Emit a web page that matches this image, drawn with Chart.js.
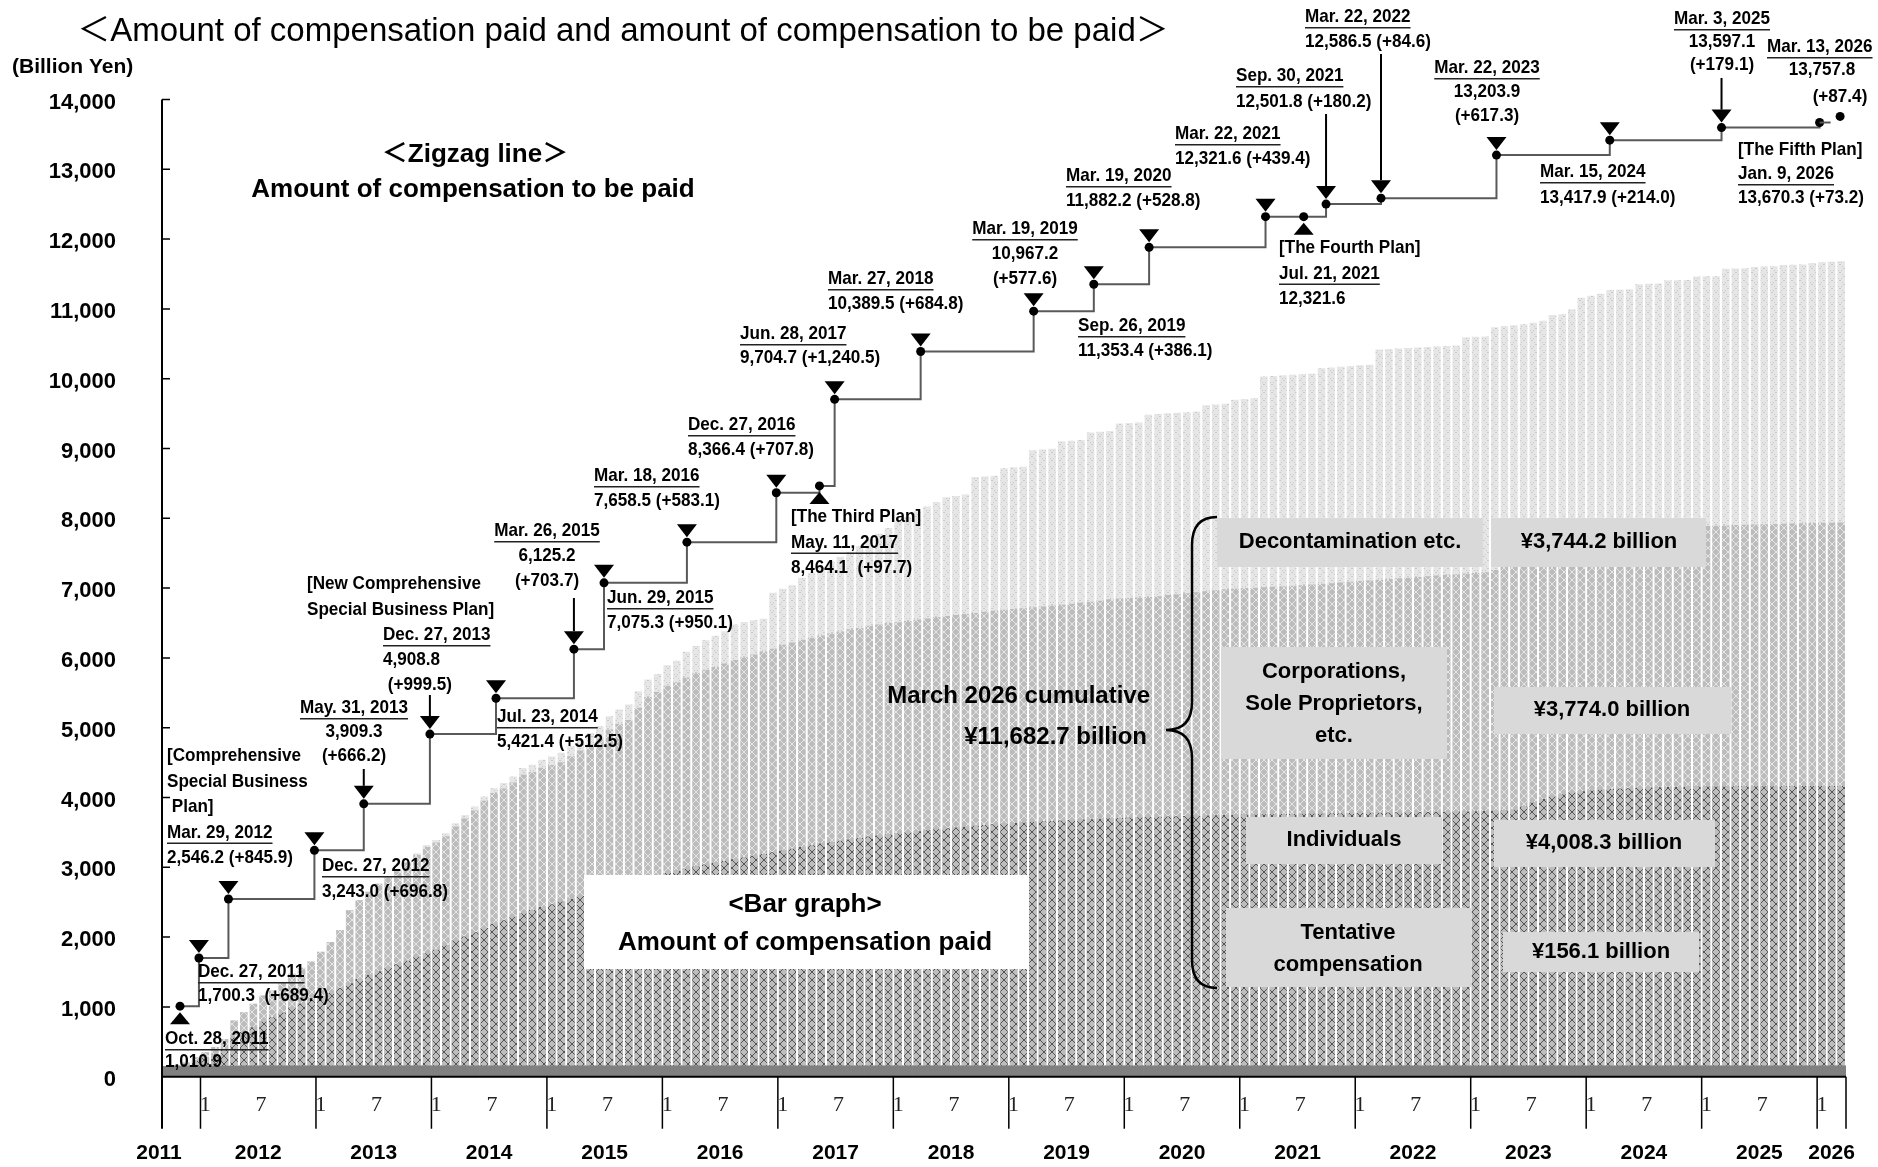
<!DOCTYPE html>
<html>
<head>
<meta charset="utf-8">
<script src="https://cdn.jsdelivr.net/npm/chart.js@4.4.1/dist/chart.umd.min.js"></script>
<style>
  html, body { margin: 0; padding: 0; background: #fff; }
  canvas { display: block; }
</style>
</head>
<body>
<canvas id="chart" width="1878" height="1167"></canvas>
<script>
// categories: one bar per month, Sep 2011 .. Mar 2026
const firstYear = 2011, firstMonth = 9, monthCount = 175;
const months = [];
for (let i = 0; i < monthCount; i++) {
  const m = firstMonth - 1 + i;
  months.push((firstYear + Math.floor(m / 12)) + '-' + String(m % 12 + 1).padStart(2, '0'));
}

// cumulative amount paid (billion yen), top edge of each band
const topTentative = [
  150, 151, 152, 152,                                             // 2011
  153, 153, 153, 153, 154, 154, 154, 154, 154, 155, 155, 155,     // 2012
  155, 155, 155, 155, 155, 155, 155, 155, 155, 155, 155, 155,     // 2013
  156, 156, 156, 156, 156, 156, 156, 156, 156, 156, 156, 156,     // 2014
  156, 156, 156, 156, 156, 156, 156, 156, 156, 156, 156, 156,     // 2015
  156, 156, 156, 156, 156, 156, 156, 156, 156, 156, 156, 156,     // 2016
  156, 156, 156, 156, 156, 156, 156, 156, 156, 156, 156, 156,     // 2017
  156, 156, 156, 156, 156, 156, 156, 156, 156, 156, 156, 156,     // 2018
  156, 156, 156, 156, 156, 156, 156, 156, 156, 156, 156, 156,     // 2019
  156, 156, 156, 156, 156, 156, 156, 156, 156, 156, 156, 156,     // 2020
  156, 156, 156, 156, 156, 156, 156, 156, 156, 156, 156, 156,     // 2021
  156, 156, 156, 156, 156, 156, 156, 156, 156, 156, 156, 156,     // 2022
  156, 156, 156, 156, 156, 156, 156, 156, 156, 156, 156, 156,     // 2023
  156, 156, 156, 156, 156, 156, 156, 156, 156, 156, 156, 156,     // 2024
  156, 156, 156, 156, 156, 156, 156, 156, 156, 156, 156, 156,     // 2025
  156.1, 156.1, 156.1                                             // 2026
];
const topIndividuals = [
  150, 158, 185, 230,
  280, 320, 390, 560, 640, 710, 790, 850, 920, 990, 1050, 1100,
  1150, 1200, 1270, 1340, 1400, 1460, 1510, 1560, 1610, 1660, 1720, 1770,
  1820, 1880, 1950, 2010, 2070, 2130, 2190, 2240, 2290, 2340, 2390, 2430,
  2470, 2510, 2550, 2590, 2630, 2670, 2710, 2750, 2790, 2830, 2860, 2890,
  2920, 2950, 2980, 3010, 3040, 3065, 3090, 3115, 3140, 3165, 3190, 3215,
  3240, 3265, 3290, 3315, 3340, 3360, 3380, 3400, 3420, 3440, 3455, 3470,
  3485, 3500, 3515, 3530, 3545, 3558, 3570, 3582, 3594, 3605, 3615, 3625,
  3635, 3643, 3651, 3658, 3665, 3672, 3678, 3684, 3690, 3696, 3702, 3707,
  3712, 3716, 3720, 3724, 3728, 3732, 3736, 3740, 3743, 3746, 3749, 3752,
  3755, 3757, 3759, 3761, 3763, 3765, 3767, 3769, 3771, 3773, 3775, 3777,
  3779, 3781, 3783, 3785, 3787, 3789, 3791, 3793, 3795, 3797, 3799, 3801,
  3803, 3806, 3810, 3815, 3825, 3870, 3930, 3980, 4015, 4045, 4070, 4090,
  4100, 4110, 4120, 4128, 4134, 4139, 4143, 4147, 4150, 4152, 4154, 4156,
  4157, 4158, 4159, 4160, 4160, 4161, 4161, 4162, 4162, 4163, 4163, 4164,
  4164, 4164, 4164.4
];
const topCorporations = [
  150, 165, 205, 280,
  352, 425, 540, 805, 924, 1044, 1164, 1236, 1356, 1475, 1560, 1650,
  1790, 1930, 2100, 2385, 2529, 2649, 2764, 2855, 2945, 3060, 3175, 3290,
  3355, 3445, 3585, 3700, 3815, 3955, 4065, 4130, 4215, 4325, 4365, 4425,
  4465, 4505, 4590, 4675, 4760, 4845, 4975, 5055, 5110, 5285, 5440, 5511,
  5600, 5650, 5720, 5780, 5830, 5870, 5920, 5970, 6010, 6050, 6090, 6130,
  6190, 6220, 6260, 6290, 6320, 6350, 6380, 6410, 6430, 6460, 6480, 6500,
  6510, 6530, 6550, 6565, 6585, 6601, 6615, 6630, 6645, 6660, 6675, 6690,
  6700, 6712, 6725, 6738, 6750, 6762, 6775, 6790, 6805, 6820, 6840, 6850,
  6858, 6865, 6871, 6885, 6900, 6912, 6925, 6940, 6955, 6968, 6983, 6990,
  7000, 7005, 7012, 7020, 7028, 7035, 7042, 7050, 7063, 7070, 7080, 7090,
  7100, 7110, 7120, 7130, 7140, 7150, 7160, 7170, 7180, 7190, 7200, 7210,
  7218, 7227, 7260, 7320, 7400, 7470, 7530, 7580, 7630, 7670, 7700, 7730,
  7750, 7770, 7790, 7805, 7820, 7835, 7845, 7855, 7862, 7870, 7876, 7882,
  7888, 7893, 7898, 7903, 7907, 7911, 7915, 7919, 7923, 7927, 7930, 7933,
  7935, 7937, 7938.4
];
const topDecontamination = [
  150, 165, 205, 280,
  352, 425, 540, 805, 924, 1044, 1164, 1236, 1356, 1475, 1560, 1650,
  1790, 1930, 2100, 2385, 2529, 2649, 2769, 2864, 2960, 3080, 3200, 3319,
  3391, 3487, 3631, 3750, 3870, 4014, 4134, 4206, 4301, 4421, 4469, 4541,
  4589, 4640, 4733, 4828, 4924, 5020, 5164, 5259, 5331, 5523, 5691, 5768,
  5896, 5960, 6088, 6170, 6252, 6317, 6381, 6477, 6509, 6541, 6560, 6935,
  6990, 7040, 7150, 7220, 7290, 7380, 7450, 7520, 7600, 7700, 7780, 7860,
  7950, 8020, 8100, 8170, 8230, 8301, 8320, 8340, 8590, 8600, 8610, 8718,
  8730, 8740, 8975, 8985, 8995, 9103, 9110, 9120, 9231, 9240, 9250, 9359,
  9365, 9372, 9484, 9495, 9505, 9512, 9520, 9530, 9621, 9630, 9640, 9700,
  9710, 9720, 10033, 10040, 10048, 10055, 10062, 10070, 10150, 10160, 10170, 10180,
  10191, 10200, 10418, 10425, 10432, 10440, 10447, 10454, 10460, 10468, 10475, 10595,
  10600, 10605, 10737, 10750, 10765, 10780, 10800, 10831, 10914, 10925, 10996, 11160,
  11188, 11216, 11270, 11275, 11280, 11354, 11360, 11365, 11409, 11412, 11415, 11464,
  11466, 11468, 11574, 11578, 11582, 11602, 11606, 11610, 11629, 11633, 11637, 11657,
  11670, 11676, 11682.7
];

// zigzag line: amount of compensation to be paid
const planDates = ['2011-10-28', '2011-12-27', '2012-03-29', '2012-12-27', '2013-05-31', '2013-12-27',
  '2014-07-23', '2015-03-26', '2015-06-29', '2016-03-18', '2016-12-27', '2017-05-11', '2017-06-28',
  '2018-03-27', '2019-03-19', '2019-09-26', '2020-03-19', '2021-03-22', '2021-07-21', '2021-09-30',
  '2022-03-22', '2023-03-22', '2024-03-15', '2025-03-03', '2026-01-09', '2026-03-13'];
const toBePaid = [1010.9, 1700.3, 2546.2, 3243.0, 3909.3, 4908.8, 5421.4, 6125.2, 7075.3, 7658.5,
  8366.4, 8464.1, 9704.7, 10389.5, 10967.2, 11353.4, 11882.2, 12321.6, 12321.6, 12501.8,
  12586.5, 13203.9, 13417.9, 13597.1, 13670.3, 13757.8];
const planMarks = ['up', 'down', 'down', 'down', 'down', 'down', 'down', 'down', 'down', 'down',
  'down', 'up', 'down', 'down', 'down', 'down', 'down', 'down', 'up', 'down',
  'down', 'down', 'down', 'down', '', ''];

const yTicks = [0, 1000, 2000, 3000, 4000, 5000, 6000, 7000, 8000, 9000, 10000, 11000, 12000, 13000, 14000];
const years = [2011, 2012, 2013, 2014, 2015, 2016, 2017, 2018, 2019, 2020, 2021, 2022, 2023, 2024, 2025, 2026];

// date -> fractional month position on the bar axis
function monthPos(s) {
  const [y, m, d] = s.split('-').map(Number);
  const days = new Date(y, m, 0).getDate();
  return (y - firstYear) * 12 + (m - firstMonth) + (d - 1) / days;
}

const FONT = '"Liberation Sans", Arial, "Noto Sans CJK JP", sans-serif';

// label blocks around the zigzag line (pixel positions)
const notes = [
  { x: 165, y: 1039, lh: 23, u: 0, lines: ['Oct. 28, 2011', '1,010.9'] },
  { x: 198, y: 972, lh: 24, u: 0, lines: ['Dec. 27, 2011', '1,700.3  (+689.4)'] },
  { x: 167, y: 756, lh: 25.5, u: 3, lines: ['[Comprehensive', 'Special Business', ' Plan]', 'Mar. 29, 2012', '2,546.2 (+845.9)'] },
  { x: 322, y: 866, lh: 25.5, u: 0, lines: ['Dec. 27, 2012', '3,243.0 (+696.8)'] },
  { x: 354, y: 708, lh: 24, u: 0, align: 'center', lines: ['May. 31, 2013', '3,909.3', '(+666.2)'] },
  { x: 307, y: 584, lh: 26, lines: ['[New Comprehensive', 'Special Business Plan]'] },
  { x: 383, y: 635, lh: 25, u: 0, lines: ['Dec. 27, 2013', '4,908.8', ' (+999.5)'] },
  { x: 497, y: 717, lh: 25, u: 0, lines: ['Jul. 23, 2014', '5,421.4 (+512.5)'] },
  { x: 547, y: 531, lh: 25, u: 0, align: 'center', lines: ['Mar. 26, 2015', '6,125.2', '(+703.7)'] },
  { x: 607, y: 598, lh: 25, u: 0, lines: ['Jun. 29, 2015', '7,075.3 (+950.1)'] },
  { x: 594, y: 476, lh: 25, u: 0, lines: ['Mar. 18, 2016', '7,658.5 (+583.1)'] },
  { x: 688, y: 425, lh: 25, u: 0, lines: ['Dec. 27, 2016', '8,366.4 (+707.8)'] },
  { x: 791, y: 517, lh: 25.5, u: 1, lines: ['[The Third Plan]', 'May. 11, 2017', '8,464.1  (+97.7)'] },
  { x: 740, y: 334, lh: 24, u: 0, lines: ['Jun. 28, 2017', '9,704.7 (+1,240.5)'] },
  { x: 828, y: 279, lh: 25, u: 0, lines: ['Mar. 27, 2018', '10,389.5 (+684.8)'] },
  { x: 1025, y: 229, lh: 25, u: 0, align: 'center', lines: ['Mar. 19, 2019', '10,967.2', '(+577.6)'] },
  { x: 1078, y: 326, lh: 25, u: 0, lines: ['Sep. 26, 2019', '11,353.4 (+386.1)'] },
  { x: 1066, y: 176, lh: 25, u: 0, lines: ['Mar. 19, 2020', '11,882.2 (+528.8)'] },
  { x: 1175, y: 134, lh: 25, u: 0, lines: ['Mar. 22, 2021', '12,321.6 (+439.4)'] },
  { x: 1279, y: 248, lh: 25.5, u: 1, lines: ['[The Fourth Plan]', 'Jul. 21, 2021', '12,321.6'] },
  { x: 1236, y: 76, lh: 26, u: 0, lines: ['Sep. 30, 2021', '12,501.8 (+180.2)'] },
  { x: 1305, y: 17, lh: 25, u: 0, lines: ['Mar. 22, 2022', '12,586.5 (+84.6)'] },
  { x: 1487, y: 68, lh: 24, u: 0, align: 'center', lines: ['Mar. 22, 2023', '13,203.9', '(+617.3)'] },
  { x: 1540, y: 172, lh: 25.5, u: 0, lines: ['Mar. 15, 2024', '13,417.9 (+214.0)'] },
  { x: 1722, y: 19, lh: 23, u: 0, align: 'center', lines: ['Mar. 3, 2025', '13,597.1', '(+179.1)'] },
  { x: 1738, y: 150, lh: 24, u: 1, lines: ['[The Fifth Plan]', 'Jan. 9, 2026', '13,670.3 (+73.2)'] },
  { x: 1767, y: 47, lh: 24, u: 0, lines: ['Mar. 13, 2026'] },
  { x: 1822, y: 70, lh: 26, align: 'center', lines: ['13,757.8'] },
  { x: 1840, y: 97, lh: 26, align: 'center', lines: ['(+87.4)'] }
];
// leader arrows: point index -> top of the arrow line
const arrows = { 4: 769, 5: 695, 7: 598, 19: 114, 20: 54, 23: 78 };

// gray boxes on the right
const boxes = [
  { r: [1217, 518, 266, 49], c: [1350, 542], lines: ['Decontamination etc.'] },
  { r: [1491, 518, 215, 49], c: [1599, 542], lines: ['¥3,744.2 billion'] },
  { r: [1221, 647, 226, 112], c: [1334, 672], lines: ['Corporations,', 'Sole Proprietors,', 'etc.'] },
  { r: [1494, 687, 237, 47], c: [1612, 710], lines: ['¥3,774.0 billion'] },
  { r: [1246, 817, 196, 47], c: [1344, 840], lines: ['Individuals'] },
  { r: [1494, 820, 221, 47], c: [1604, 843], lines: ['¥4,008.3 billion'] },
  { r: [1226, 908, 245, 79], c: [1348, 933], lines: ['Tentative', 'compensation'] },
  { r: [1503, 932, 196, 40], c: [1601, 952], lines: ['¥156.1 billion'] }
];

function makePattern(bg, fg, sparse) {
  const c = document.createElement('canvas');
  c.width = 8; c.height = 8;
  const g = c.getContext('2d');
  g.fillStyle = bg;
  g.fillRect(0, 0, 8, 8);
  g.fillStyle = fg;
  for (let i = 0; i < 8; i++) {
    if (sparse && i % 2) continue;
    g.fillRect(i, i, 1, 1);
    g.fillRect(7 - i, i, 1, 1);
  }
  return g.createPattern(c, 'repeat');
}

function txt(ctx, s, x, y, o) {
  ctx.save();
  ctx.font = (o.bold === false ? '' : 'bold ') + o.size + 'px ' + (o.family || FONT);
  ctx.textBaseline = 'middle';
  ctx.textAlign = 'left';
  ctx.fillStyle = o.color || '#000';
  const sx = o.sx || 1;
  const w = ctx.measureText(s).width * sx;
  let left = x;
  if (o.align === 'center') left = x - w / 2;
  else if (o.align === 'right') left = x - w;
  ctx.translate(left, y);
  ctx.scale(sx, 1);
  ctx.fillText(s, 0, 0);
  ctx.restore();
  return { left: left, w: w };
}

const overlay = {
  id: 'overlay',
  afterDraw(chart) {
    const ctx = chart.ctx;
    const xs = chart.scales.x, ys = chart.scales.y;
    const area = chart.chartArea;
    const cw = xs.width / monthCount;
    const y0 = ys.getPixelForValue(0);
    const pts = chart.getDatasetMeta(4).data;

    ctx.save();
    // axes
    ctx.strokeStyle = '#000';
    ctx.lineWidth = 2;
    ctx.beginPath();
    ctx.moveTo(area.left, ys.getPixelForValue(14000));
    ctx.lineTo(area.left, y0 + 52);
    ctx.moveTo(area.left, y0);
    ctx.lineTo(area.right, y0);
    ctx.stroke();
    ctx.lineWidth = 1.5;
    ctx.beginPath();
    yTicks.forEach(v => {
      if (!v) return;
      const y = ys.getPixelForValue(v);
      ctx.moveTo(area.left, y);
      ctx.lineTo(area.left + 8, y);
    });
    ctx.stroke();
    yTicks.forEach(v => txt(ctx, v.toLocaleString('en-US'), 116, ys.getPixelForValue(v) + 3, { size: 22, align: 'right' }));

    // month row and year row
    ctx.lineWidth = 1.5;
    ctx.beginPath();
    years.forEach(yr => {
      if (yr === firstYear) return;
      const i = (yr - firstYear) * 12 - (firstMonth - 1);
      const xb = xs.getPixelForValue(i) - cw / 2;
      ctx.moveTo(xb, y0);
      ctx.lineTo(xb, y0 + 52);
    });
    ctx.moveTo(area.right, y0);
    ctx.lineTo(area.right, y0 + 52);
    ctx.stroke();
    years.forEach(yr => {
      const jan = (yr - firstYear) * 12 - (firstMonth - 1);
      const last = Math.min(jan + 11, monthCount - 1);
      [0, 6].forEach(k => {
        const i = jan + k;
        if (i < 0 || i >= monthCount) return;
        txt(ctx, String(k + 1), xs.getPixelForValue(i) + (k ? -2 : 0), y0 + 29,
          { size: 22, bold: false, family: '"Liberation Serif", serif', color: '#222', align: 'center' });
      });
      let cx;
      if (yr === firstYear) cx = area.left - 3;
      else cx = (xs.getPixelForValue(jan) + xs.getPixelForValue(last)) / 2;
      txt(ctx, String(yr), cx, y0 + 77, { size: 21, align: 'center' });
    });

    // markers on the zigzag line
    ctx.fillStyle = '#000';
    ctx.strokeStyle = '#000';
    pts.forEach((p, i) => {
      const mk = planMarks[i];
      if (mk === 'down') {
        ctx.beginPath();
        ctx.moveTo(p.x - 10, p.y - 18);
        ctx.lineTo(p.x + 10, p.y - 18);
        ctx.lineTo(p.x, p.y - 5);
        ctx.closePath();
        ctx.fill();
      } else if (mk === 'up') {
        ctx.beginPath();
        ctx.moveTo(p.x - 10, p.y + 18);
        ctx.lineTo(p.x + 10, p.y + 18);
        ctx.lineTo(p.x, p.y + 6);
        ctx.closePath();
        ctx.fill();
      }
      if (arrows[i] !== undefined) {
        ctx.lineWidth = 2;
        ctx.beginPath();
        ctx.moveTo(p.x, arrows[i]);
        ctx.lineTo(p.x, p.y - 18);
        ctx.stroke();
      }
    });
    // short stub after the Jan. 9, 2026 point
    const pj = pts[24];
    ctx.strokeStyle = '#595959';
    ctx.lineWidth = 2;
    ctx.beginPath();
    ctx.moveTo(pj.x, pj.y);
    ctx.lineTo(pj.x + 11, pj.y);
    ctx.stroke();

    // labels
    notes.forEach(n => {
      n.lines.forEach((s, k) => {
        const y = n.y + k * n.lh;
        const r = txt(ctx, s, n.x, y, { size: 19, sx: 0.9, align: n.align || 'left' });
        if (k === n.u) {
          ctx.fillStyle = '#222';
          ctx.fillRect(r.left, y + 10, r.w, 1.5);
        }
      });
    });

    // titles
    txt(ctx, '＜Amount of compensation paid and amount of compensation to be paid＞', 623, 32, { size: 33, bold: false, align: 'center' });
    txt(ctx, '(Billion Yen)', 12, 67, { size: 21 });
    txt(ctx, '＜Zigzag line＞', 475, 155, { size: 26, align: 'center' });
    txt(ctx, 'Amount of compensation to be paid', 473, 190, { size: 26, align: 'center' });

    ctx.fillStyle = '#fff';
    ctx.fillRect(584, 875, 444, 94);
    txt(ctx, '<Bar graph>', 805, 905, { size: 26, align: 'center' });
    txt(ctx, 'Amount of compensation paid', 805, 943, { size: 26, align: 'center' });

    txt(ctx, 'March 2026 cumulative', 1150, 696, { size: 24, align: 'right' });
    txt(ctx, '¥11,682.7 billion', 1147, 737, { size: 24, align: 'right' });

    // brace
    ctx.strokeStyle = '#000';
    ctx.lineWidth = 2.5;
    ctx.beginPath();
    ctx.moveTo(1217, 517);
    ctx.quadraticCurveTo(1192, 517, 1192, 545);
    ctx.lineTo(1192, 702);
    ctx.quadraticCurveTo(1192, 730, 1166, 730);
    ctx.quadraticCurveTo(1192, 730, 1192, 758);
    ctx.lineTo(1192, 960);
    ctx.quadraticCurveTo(1192, 988, 1217, 988);
    ctx.stroke();

    boxes.forEach(b => {
      ctx.fillStyle = '#d9d9d9';
      ctx.fillRect(b.r[0], b.r[1], b.r[2], b.r[3]);
      b.lines.forEach((s, k) => txt(ctx, s, b.c[0], b.c[1] + k * 32, { size: 22, align: 'center' }));
    });
    ctx.restore();
  }
};

const barOpts = { grouped: false, categoryPercentage: 0.78, barPercentage: 1, borderWidth: 0 };

new Chart(document.getElementById('chart'), {
  type: 'bar',
  data: {
    labels: months,
    datasets: [
      Object.assign({ label: 'Decontamination etc.', data: topDecontamination, backgroundColor: makePattern('#e6e6e6', '#cacaca', true), order: 4 }, barOpts),
      Object.assign({ label: 'Corporations, Sole Proprietors, etc.', data: topCorporations, backgroundColor: makePattern('#bcbcbc', '#e6e6e6', false), order: 3 }, barOpts),
      Object.assign({ label: 'Individuals', data: topIndividuals, backgroundColor: makePattern('#bdbdbd', '#555555', false), order: 2 }, barOpts),
      { label: 'Tentative compensation', data: topTentative, backgroundColor: '#808080', grouped: false,
        categoryPercentage: 1, barPercentage: 1, borderWidth: 0, order: 1 },
      {
        type: 'line',
        label: 'Amount of compensation to be paid',
        xAxisID: 'xd',
        data: toBePaid.map((v, i) => ({ x: monthPos(planDates[i]), y: v })),
        stepped: 'before',
        borderColor: '#595959',
        borderWidth: 2,
        pointRadius: 4.5,
        pointBackgroundColor: '#000',
        pointBorderWidth: 0,
        order: 0,
        segment: {
          borderColor: c => c.p1DataIndex === toBePaid.length - 1 ? 'rgba(0,0,0,0)' : undefined
        }
      }
    ]
  },
  options: {
    responsive: false,
    animation: false,
    devicePixelRatio: 1,
    layout: { padding: { left: 162, right: 32, top: 99.5, bottom: 90.3 } },
    plugins: { legend: { display: false }, tooltip: { enabled: false } },
    scales: {
      x: { type: 'category', display: false, offset: true },
      xd: { type: 'linear', display: false, offset: false, grace: 0, min: 0, max: monthCount },
      y: { display: false, min: 0, max: 14000 }
    }
  },
  plugins: [overlay]
});
</script>
</body>
</html>
